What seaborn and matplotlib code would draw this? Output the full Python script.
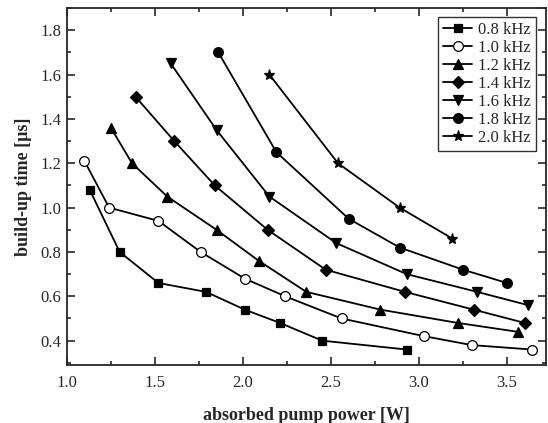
import pandas as pd
import matplotlib
matplotlib.use("Agg")
import matplotlib.pyplot as plt
import seaborn as sns
from matplotlib.ticker import MultipleLocator

# series
labels = ["0.8 kHz", "1.0 kHz", "1.2 kHz", "1.4 kHz", "1.6 kHz", "1.8 kHz", "2.0 kHz"]

x_08 = [1.13, 1.30, 1.52, 1.79, 2.01, 2.21, 2.45, 2.93]
y_08 = [1.08, 0.80, 0.66, 0.62, 0.54, 0.48, 0.40, 0.36]

x_10 = [1.10, 1.24, 1.52, 1.76, 2.01, 2.24, 2.56, 3.03, 3.30, 3.64]
y_10 = [1.21, 1.00, 0.94, 0.80, 0.68, 0.60, 0.50, 0.42, 0.38, 0.36]

x_12 = [1.25, 1.37, 1.57, 1.85, 2.09, 2.36, 2.78, 3.22, 3.56]
y_12 = [1.36, 1.20, 1.05, 0.90, 0.76, 0.62, 0.54, 0.48, 0.44]

x_14 = [1.39, 1.61, 1.84, 2.14, 2.47, 2.92, 3.31, 3.60]
y_14 = [1.50, 1.30, 1.10, 0.90, 0.72, 0.62, 0.54, 0.48]

x_16 = [1.59, 1.85, 2.15, 2.53, 2.93, 3.33, 3.62]
y_16 = [1.65, 1.35, 1.05, 0.84, 0.70, 0.62, 0.56]

x_18 = [1.86, 2.19, 2.60, 2.89, 3.25, 3.50]
y_18 = [1.70, 1.25, 0.95, 0.82, 0.72, 0.66]

x_20 = [2.15, 2.54, 2.89, 3.19]
y_20 = [1.60, 1.20, 1.00, 0.86]

series = [(x_08, y_08), (x_10, y_10), (x_12, y_12), (x_14, y_14),
          (x_16, y_16), (x_18, y_18), (x_20, y_20)]
markers = ["s", "o", "^", "D", "v", "o", "*"]
sizes = [6, 7, 7, 6, 7, 7, 8]

sns.set_style("ticks")
plt.rcParams["font.family"] = ["Liberation Serif", "DejaVu Serif"]

fig = plt.figure(figsize=(5.48, 4.23), dpi=100)
ax = fig.add_axes([0.122, 0.137, 0.874, 0.844])

for (xs, ys), lab, m, s in zip(series, labels, markers, sizes):
    df = pd.DataFrame({"power": xs, "time": ys})
    face = "white" if lab == "1.0 kHz" else "black"
    sns.lineplot(data=df, x="power", y="time", ax=ax, color="black", lw=1.3,
                 marker=m, markersize=s, markerfacecolor=face,
                 markeredgecolor="black", markeredgewidth=0.9,
                 sort=False, label=lab)

ax.set_xlim(1.0, 3.72)
ax.set_ylim(0.29, 1.9)
ax.xaxis.set_major_locator(MultipleLocator(0.5))
ax.xaxis.set_minor_locator(MultipleLocator(0.25))
ax.yaxis.set_major_locator(MultipleLocator(0.2))
ax.yaxis.set_minor_locator(MultipleLocator(0.1))
ax.tick_params(which="both", direction="in", top=True, right=True, width=1.2)
ax.tick_params(which="major", length=6, labelsize=12)
ax.tick_params(axis="x", which="major", pad=7)
ax.tick_params(axis="y", which="major", pad=4)
ax.tick_params(which="minor", length=3)
for sp in ax.spines.values():
    sp.set_linewidth(1.3)

ax.set_xlabel("absorbed pump power [W]", fontsize=13, fontweight="bold", labelpad=12)
ax.set_ylabel("build-up time [µs]", fontsize=13, fontweight="bold", labelpad=6)

leg = ax.legend(loc="upper right", fontsize=12, handlelength=1.7, handletextpad=0.4,
                labelspacing=0.12, borderpad=0.3, borderaxespad=0, frameon=True,
                fancybox=False, edgecolor="black", bbox_to_anchor=(0.98, 0.975))
leg.get_frame().set_linewidth(1.0)

fig.savefig("out.png", dpi=100)
